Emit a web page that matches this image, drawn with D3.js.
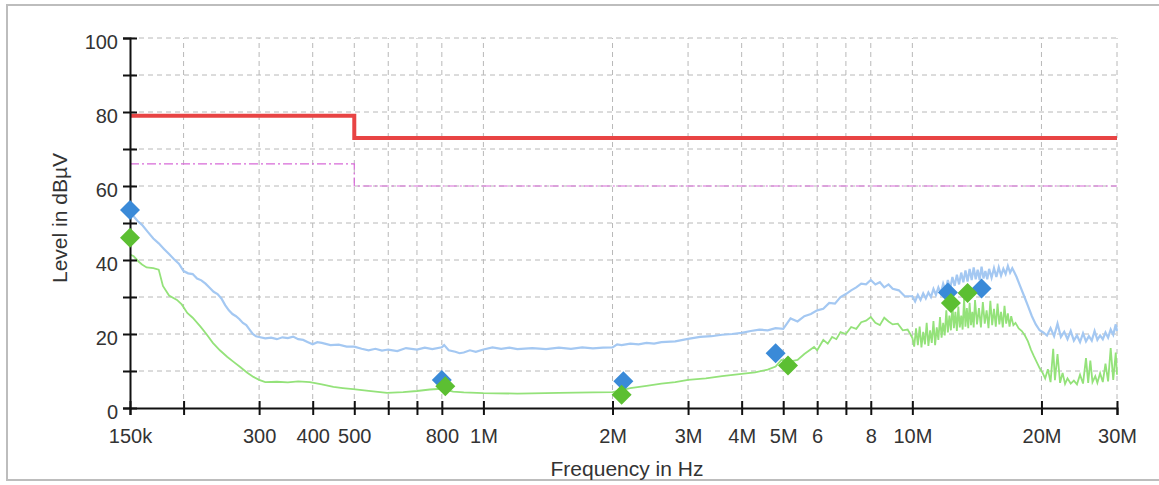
<!DOCTYPE html>
<html>
<head>
  <meta charset="UTF-8">
  <title>emi-scan</title>
  <style>
    body { margin: 0; background: #fff; }
    text { font-family: "Liberation Sans", Arial, sans-serif; fill: #333; }
  </style>
</head>
<body>
  <div class="svg-zone"></div>
  <script src="https://cdn.jsdelivr.net/npm/d3@7/dist/d3.min.js"></script>
  <script type="text/javascript">
  // frequencies in MHz, levels in dBuV
  let xTicks = [0.15, 0.2, 0.3, 0.4, 0.5, 0.6, 0.7, 0.8, 1, 2, 3, 4, 5, 6, 7, 8, 10, 20, 30];
  let xTickLabels = ["150k", "", "300", "400", "500", "", "", "800", "1M", "2M", "3M", "4M", "5M", "6", "", "8", "10M", "20M", "30M"];
  let yTicks = [0, 10, 20, 30, 40, 50, 60, 70, 80, 90, 100];
  let yTickLabels = ["0", "", "20", "", "40", "", "60", "", "80", "", "100"];

  let limitQP = [[0.15, 79], [0.5, 79], [0.5, 73], [30, 73]];
  let limitAV = [[0.15, 66], [0.5, 66], [0.5, 60], [30, 60]];

  let peakTrace = [
    [0.150, 52.5], [0.153, 51.8], [0.156, 50.6], [0.160, 49.5], [0.165, 47.6], [0.170, 45.8],
    [0.175, 44.5], [0.180, 43.0], [0.185, 41.6], [0.190, 40.2], [0.195, 39.0], [0.200, 37.0],
    [0.205, 36.4], [0.210, 36.2], [0.215, 35.0], [0.220, 34.5], [0.225, 33.6], [0.230, 32.5],
    [0.235, 31.4], [0.240, 30.8], [0.245, 29.6], [0.250, 27.8], [0.255, 26.4], [0.260, 25.4],
    [0.265, 24.8], [0.270, 24.0], [0.275, 23.0], [0.280, 22.4], [0.285, 21.2], [0.290, 20.0],
    [0.295, 19.4], [0.300, 19.2], [0.310, 18.8], [0.320, 19.0], [0.330, 18.6], [0.340, 19.1],
    [0.350, 18.9], [0.360, 19.3], [0.370, 18.6], [0.380, 18.4], [0.390, 17.8], [0.400, 17.2],
    [0.410, 17.8], [0.420, 17.6], [0.440, 17.0], [0.460, 17.1], [0.480, 16.6], [0.500, 16.6],
    [0.520, 16.0], [0.540, 15.6], [0.560, 16.0], [0.580, 15.5], [0.600, 15.8], [0.630, 15.4],
    [0.660, 16.2], [0.700, 15.8], [0.730, 16.3], [0.760, 15.9], [0.800, 16.4], [0.810, 17.0],
    [0.830, 15.6], [0.860, 15.2], [0.880, 14.8], [0.900, 15.0], [0.930, 15.6], [0.960, 15.2],
    [1.000, 15.8], [1.050, 16.4], [1.100, 16.0], [1.150, 16.3], [1.200, 15.9], [1.300, 16.2],
    [1.400, 15.9], [1.500, 16.3], [1.600, 16.0], [1.700, 16.4], [1.800, 16.1], [1.900, 16.3],
    [2.000, 16.4], [2.050, 17.2], [2.100, 17.0], [2.200, 17.4], [2.300, 17.2], [2.400, 17.6],
    [2.500, 17.4], [2.600, 17.8], [2.800, 18.0], [3.000, 18.7], [3.200, 19.2], [3.400, 19.4],
    [3.600, 19.8], [3.800, 20.0], [4.000, 20.3], [4.200, 20.8], [4.400, 21.2], [4.600, 21.0],
    [4.800, 21.6], [5.000, 21.4], [5.100, 22.8], [5.200, 24.2], [5.400, 23.4], [5.600, 24.8],
    [5.800, 25.4], [6.000, 26.4], [6.200, 26.8], [6.400, 28.4], [6.600, 28.2], [6.800, 30.0],
    [7.000, 30.8], [7.200, 31.8], [7.400, 32.6], [7.600, 33.6], [7.800, 33.4], [8.000, 34.6],
    [8.200, 33.4], [8.400, 34.0], [8.600, 32.6], [8.800, 33.4], [9.000, 32.2], [9.300, 31.8],
    [9.600, 30.2], [10.00, 30.2], [10.15, 28.8], [10.30, 30.6], [10.45, 29.2], [10.60, 31.0],
    [10.75, 29.6], [10.90, 31.2], [11.05, 30.0], [11.20, 32.2], [11.35, 30.6], [11.50, 32.6],
    [11.65, 31.0], [11.80, 33.6], [11.95, 31.8], [12.10, 34.6], [12.25, 32.2], [12.40, 35.4],
    [12.55, 33.0], [12.70, 36.0], [12.85, 33.4], [13.00, 36.6], [13.15, 34.0], [13.30, 37.2],
    [13.45, 34.2], [13.60, 37.6], [13.75, 34.6], [13.90, 38.0], [14.05, 34.8], [14.20, 37.4],
    [14.35, 34.6], [14.50, 38.2], [14.65, 35.0], [14.80, 37.0], [14.95, 34.8], [15.10, 37.6],
    [15.30, 35.2], [15.50, 37.8], [15.70, 35.4], [15.90, 38.0], [16.10, 35.8], [16.30, 37.6],
    [16.50, 36.2], [16.70, 38.4], [16.90, 36.6], [17.10, 37.8], [17.30, 36.6], [17.50, 35.4],
    [17.80, 33.2], [18.20, 30.4], [18.60, 27.6], [19.00, 24.8], [19.40, 22.6], [19.80, 21.0],
    [20.20, 20.4], [20.60, 19.6], [21.00, 21.6], [21.40, 19.4], [21.80, 22.8], [22.20, 19.2],
    [22.60, 20.6], [23.00, 18.6], [23.40, 20.8], [23.80, 18.2], [24.20, 19.6], [24.60, 17.8],
    [25.00, 20.2], [25.40, 18.0], [25.80, 19.4], [26.20, 18.2], [26.60, 20.8], [27.00, 18.4],
    [27.40, 19.6], [27.80, 18.6], [28.20, 20.4], [28.60, 19.0], [29.00, 21.2], [29.40, 19.8],
    [29.80, 22.6], [30.00, 20.8]
  ];

  let avgTrace = [
    [0.150, 41.5], [0.153, 41.0], [0.157, 39.6], [0.160, 38.8], [0.164, 38.0], [0.170, 37.8],
    [0.175, 37.4], [0.179, 33.0], [0.185, 30.4], [0.193, 29.2], [0.198, 28.0], [0.204, 25.7],
    [0.210, 24.4], [0.219, 22.0], [0.226, 20.0], [0.234, 17.6], [0.243, 15.6], [0.253, 13.8],
    [0.262, 12.4], [0.271, 11.1], [0.281, 9.6], [0.291, 8.4], [0.300, 7.6], [0.310, 7.0],
    [0.330, 7.1], [0.350, 6.9], [0.370, 7.2], [0.394, 7.0], [0.420, 6.4], [0.447, 5.7],
    [0.470, 5.4], [0.497, 5.1], [0.540, 4.6], [0.596, 4.1], [0.650, 4.3], [0.700, 4.6],
    [0.750, 5.0], [0.800, 5.2], [0.850, 4.4], [0.900, 4.2], [1.000, 4.0], [1.200, 3.9],
    [1.500, 4.1], [1.800, 4.2], [2.000, 4.3], [2.100, 4.8], [2.200, 5.4], [2.400, 6.0],
    [2.600, 6.6], [2.800, 7.0], [3.000, 7.6], [3.300, 8.0], [3.600, 8.6], [4.000, 9.2],
    [4.300, 9.6], [4.600, 10.4], [4.800, 11.2], [4.950, 13.0], [5.200, 12.6], [5.400, 13.0],
    [5.600, 14.6], [5.900, 16.5], [6.000, 15.6], [6.200, 18.4], [6.350, 17.4], [6.500, 19.2],
    [6.650, 18.6], [6.800, 20.5], [7.000, 20.0], [7.200, 21.9], [7.400, 21.4], [7.600, 23.2],
    [7.800, 23.6], [8.000, 24.6], [8.200, 23.0], [8.400, 22.4], [8.600, 24.4], [8.800, 23.4],
    [9.000, 22.6], [9.250, 22.8], [9.500, 21.0], [9.750, 21.2], [10.00, 19.0], [10.10, 16.6],
    [10.20, 21.5], [10.30, 17.0], [10.40, 22.0], [10.50, 16.4], [10.60, 20.6], [10.70, 17.2],
    [10.80, 23.0], [10.90, 16.8], [11.00, 21.0], [11.10, 17.6], [11.20, 23.5], [11.30, 17.0],
    [11.40, 21.8], [11.50, 18.4], [11.60, 24.6], [11.70, 19.0], [11.80, 23.0], [11.90, 19.6],
    [12.00, 26.4], [12.10, 20.4], [12.20, 25.0], [12.30, 21.0], [12.40, 28.0], [12.50, 21.6],
    [12.60, 26.0], [12.70, 20.8], [12.80, 27.4], [12.90, 21.8], [13.00, 25.0], [13.10, 21.2],
    [13.20, 29.6], [13.30, 22.0], [13.40, 27.0], [13.50, 21.6], [13.60, 28.4], [13.70, 22.4],
    [13.80, 26.0], [13.90, 21.8], [14.00, 29.2], [14.15, 22.6], [14.30, 27.0], [14.45, 21.8],
    [14.60, 28.6], [14.75, 22.8], [14.90, 26.4], [15.05, 21.6], [15.20, 29.0], [15.35, 22.4],
    [15.50, 26.8], [15.65, 22.0], [15.80, 28.2], [15.95, 22.6], [16.10, 26.0], [16.25, 21.8],
    [16.40, 27.6], [16.55, 22.8], [16.70, 25.6], [16.85, 22.0], [17.00, 24.8], [17.20, 22.4],
    [17.40, 23.0], [17.70, 21.5], [18.00, 20.8], [18.30, 19.6], [18.60, 18.0], [18.90, 15.8],
    [19.20, 14.0], [19.50, 12.4], [19.80, 10.8], [20.10, 9.6], [20.40, 8.0], [20.70, 10.5],
    [21.00, 7.0], [21.30, 16.0], [21.50, 7.5], [21.80, 14.6], [22.10, 6.8], [22.40, 9.5],
    [22.70, 6.5], [23.00, 8.0], [23.40, 6.6], [23.80, 7.4], [24.20, 6.4], [24.60, 9.0],
    [25.00, 6.6], [25.40, 13.5], [25.70, 6.8], [26.00, 12.8], [26.30, 7.0], [26.70, 8.6],
    [27.00, 6.8], [27.40, 9.4], [27.80, 7.0], [28.20, 12.0], [28.60, 7.2], [29.00, 16.2],
    [29.40, 7.6], [29.80, 15.0], [30.00, 9.0]
  ];

  let peakMarkers = [[0.150, 53.5], [0.800, 7.6], [2.12, 7.2], [4.80, 14.8], [12.1, 31.2], [14.5, 32.3]];
  let avgMarkers = [[0.150, 46.0], [0.815, 5.9], [2.10, 3.6], [5.13, 11.5], [12.3, 28.4], [13.45, 31.1]];

  render();

  function render() {
    var width = 1159,
      height = 485;

    var x = d3.scaleLog()
      .domain([0.15, 30])
      .range([130, 1117]);
    var y = d3.scaleLinear()
      .domain([0, 100])
      .range([408, 38]);

    var svg = d3.select(".svg-zone").append("svg")
      .attr("width", width)
      .attr("height", height);

    // outer frame
    svg.append("rect")
      .attr("x", 7).attr("y", 5)
      .attr("width", 1170).attr("height", 475)
      .attr("fill", "none")
      .attr("stroke", "#bdbdbd")
      .attr("stroke-width", 2);

    // grid
    svg.append("g").selectAll("line")
      .data(yTicks.slice(1))
      .enter().append("line")
      .attr("x1", x(0.15)).attr("x2", x(30))
      .attr("y1", d => y(d)).attr("y2", d => y(d))
      .attr("stroke", "#b8b8b8")
      .attr("stroke-dasharray", "5,4");
    svg.append("g").selectAll("line")
      .data(xTicks.slice(1))
      .enter().append("line")
      .attr("x1", d => x(d)).attr("x2", d => x(d))
      .attr("y1", y(0)).attr("y2", y(100))
      .attr("stroke", "#b8b8b8")
      .attr("stroke-dasharray", "5,4");

    // limit lines
    var line = d3.line()
      .x(d => x(d[0]))
      .y(d => y(d[1]));

    svg.append("path")
      .attr("d", line(limitAV))
      .attr("fill", "none")
      .attr("stroke", "#d86ad8")
      .attr("stroke-width", 1.2)
      .attr("stroke-dasharray", "9,3,2,3");
    svg.append("path")
      .attr("d", line(limitQP))
      .attr("fill", "none")
      .attr("stroke", "#e84444")
      .attr("stroke-width", 4);

    // traces
    svg.append("path")
      .attr("d", line(peakTrace))
      .attr("fill", "none")
      .attr("stroke", "#a4c8f2")
      .attr("stroke-width", 2.2);
    svg.append("path")
      .attr("d", line(avgTrace))
      .attr("fill", "none")
      .attr("stroke", "#94e27a")
      .attr("stroke-width", 1.8);

    // axes
    var xAxis = d3.axisBottom(x)
      .tickValues(xTicks)
      .tickFormat((d, i) => xTickLabels[i])
      .tickSize(7)
      .tickPadding(14);
    var gx = svg.append("g")
      .attr("transform", "translate(0," + y(0) + ")")
      .call(xAxis);
    gx.select(".domain").attr("stroke", "#111").attr("stroke-width", 2);
    gx.selectAll(".tick line").attr("y1", -7).attr("y2", 7).attr("stroke", "#111").attr("stroke-width", 2);
    gx.selectAll(".tick text")
      .style("font-size", "20px")
      .style("font-family", "Liberation Sans, Arial, sans-serif")
      .attr("fill", "#333");

    var yAxis = d3.axisLeft(y)
      .tickValues(yTicks)
      .tickFormat((d, i) => yTickLabels[i])
      .tickSize(7)
      .tickPadding(5);
    var gy = svg.append("g")
      .attr("transform", "translate(" + x(0.15) + ",0)")
      .call(yAxis);
    gy.select(".domain").attr("stroke", "#111").attr("stroke-width", 2);
    gy.selectAll(".tick line").attr("x1", -7).attr("x2", 7).attr("stroke", "#111").attr("stroke-width", 2);
    gy.selectAll(".tick text")
      .attr("dy", "0.5em")
      .style("font-size", "20px")
      .style("font-family", "Liberation Sans, Arial, sans-serif")
      .attr("fill", "#333");

    // markers
    var diamond = d3.symbol().type(d3.symbolSquare).size(200);
    svg.append("g").selectAll("path")
      .data(peakMarkers)
      .enter().append("path")
      .attr("d", diamond)
      .attr("transform", d => "translate(" + x(d[0]) + "," + y(d[1]) + ") rotate(45)")
      .attr("fill", "#3a8ad8");
    svg.append("g").selectAll("path")
      .data(avgMarkers)
      .enter().append("path")
      .attr("d", diamond)
      .attr("transform", d => "translate(" + x(d[0]) + "," + y(d[1]) + ") rotate(45)")
      .attr("fill", "#5cbf32");

    // axis titles
    svg.append("text")
      .attr("x", 627).attr("y", 476)
      .attr("text-anchor", "middle")
      .style("font-size", "21px")
      .text("Frequency in Hz");
    svg.append("text")
      .attr("transform", "translate(67,218) rotate(-90)")
      .attr("text-anchor", "middle")
      .style("font-size", "21px")
      .text("Level in dBµV");
  }
  </script>
</body>
</html>
